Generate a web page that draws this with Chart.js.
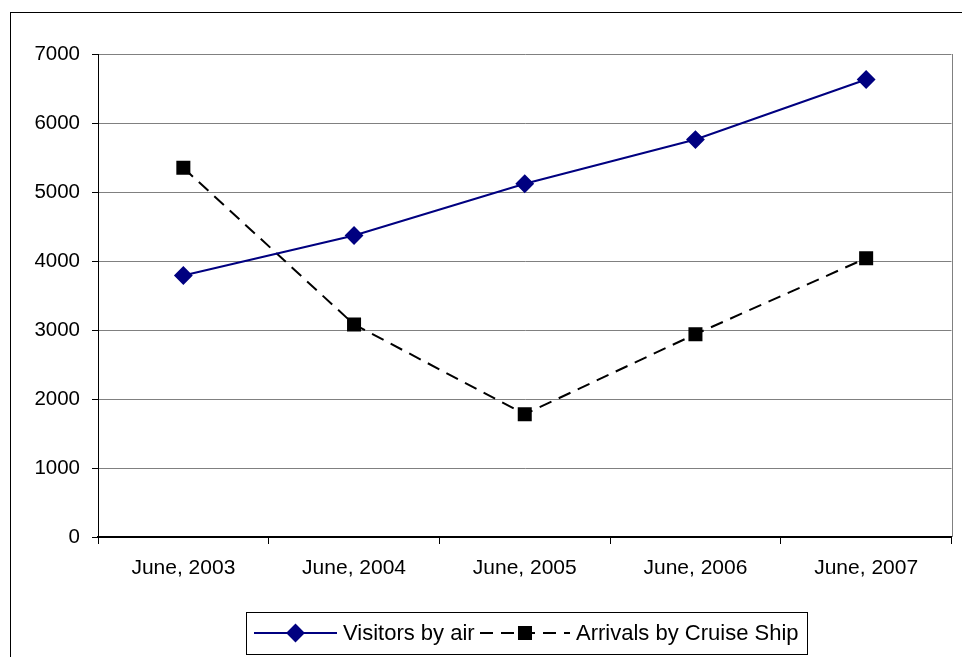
<!DOCTYPE html>
<html>
<head>
<meta charset="utf-8">
<script src="https://cdn.jsdelivr.net/npm/chart.js@4.4.1/dist/chart.umd.min.js"></script>
<style>
  html, body { margin: 0; padding: 0; background: #fff; }
  #wrap { position: relative; width: 962px; height: 657px; overflow: hidden; }
  #frame { position: absolute; left: 10px; top: 12px; width: 1000px; height: 700px;
           border-left: 1px solid #000; border-top: 1px solid #000; }
  canvas { position: absolute; left: 0; top: 0; }
</style>
</head>
<body>
<div id="wrap">
  <div id="frame"></div>
  <canvas id="chart" width="962" height="657"></canvas>
</div>
<script>
// values
const categories = ['June, 2003', 'June, 2004', 'June, 2005', 'June, 2006', 'June, 2007'];
const visitorsByAir = [3790, 4370, 5120, 5760, 6630];
const cruiseArrivals = [5350, 3080, 1780, 2940, 4040];
const yTicks = [0, 1000, 2000, 3000, 4000, 5000, 6000, 7000];

const FONT = 'Liberation Sans, Arial, sans-serif';

// draws the boxed legend (line + marker + text) like the old office chart
const boxLegend = {
  id: 'boxLegend',
  afterDraw(chart) {
    const ctx = chart.ctx;
    const ds = chart.data.datasets;
    const cy = 633;
    ctx.save();
    ctx.strokeStyle = '#000';
    ctx.lineWidth = 1;
    ctx.strokeRect(246.5, 612.5, 561, 42);

    const items = [
      { x0: 254, x1: 337, text: 343 },
      { x0: 480, x1: 570, text: 576 }
    ];
    items.forEach((it, i) => {
      const d = ds[i];
      ctx.strokeStyle = d.borderColor;
      ctx.lineWidth = d.borderWidth;
      ctx.setLineDash(d.borderDash || []);
      ctx.beginPath();
      ctx.moveTo(it.x0, cy);
      ctx.lineTo(it.x1, cy);
      ctx.stroke();
      ctx.setLineDash([]);
      ctx.fillStyle = d.pointBackgroundColor;
      ctx.strokeStyle = d.pointBorderColor;
      Chart.helpers.drawPoint(ctx, {
        pointStyle: d.pointStyle, radius: d.pointRadius, rotation: d.pointRotation || 0, borderWidth: 1
      }, (it.x0 + it.x1) / 2, cy);
      ctx.fillStyle = '#000';
      ctx.font = '22px ' + FONT;
      ctx.textBaseline = 'middle';
      ctx.fillText(d.label, it.text, cy + 1);
    });

    // right edge of the plot area
    const a = chart.chartArea;
    ctx.strokeStyle = '#808080';
    ctx.lineWidth = 1;
    ctx.beginPath();
    ctx.moveTo(Math.round(a.right) + 0.5, a.top);
    ctx.lineTo(Math.round(a.right) + 0.5, a.bottom);
    ctx.stroke();
    ctx.restore();
  }
};

new Chart(document.getElementById('chart'), {
  type: 'line',
  data: {
    labels: categories,
    datasets: [
      {
        label: 'Visitors by air',
        data: visitorsByAir,
        borderColor: '#000080',
        borderWidth: 2,
        pointStyle: 'rectRot',
        pointRadius: 8,
        pointBackgroundColor: '#000080',
        pointBorderColor: '#000080',
        tension: 0
      },
      {
        label: 'Arrivals by Cruise Ship',
        data: cruiseArrivals,
        borderColor: '#000',
        borderWidth: 2,
        borderDash: [13, 8],
        pointStyle: 'rect',
        pointRadius: 8.5,
        pointBackgroundColor: '#000',
        pointBorderColor: '#000',
        tension: 0
      }
    ]
  },
  options: {
    responsive: false,
    animation: false,
    layout: { padding: { left: 0, top: 54, right: 8, bottom: 0 } },
    plugins: { legend: { display: false }, tooltip: { enabled: false } },
    scales: {
      x: {
        offset: true,
        grid: { offset: true, drawOnChartArea: false, drawTicks: true, tickLength: 7, tickColor: '#000' },
        border: { color: '#000', width: 2 },
        ticks: { color: '#000', font: { family: FONT, size: 21 }, padding: 12, maxRotation: 0 },
        afterFit(scale) {
          scale.height = 120;
          scale.paddingLeft = 0;
          scale.paddingRight = 0;
        }
      },
      y: {
        min: 0,
        max: 7000,
        afterBuildTicks(scale) { scale.ticks = yTicks.map(v => ({ value: v })); },
        grid: { color: '#808080', tickColor: '#000', tickLength: 6, lineWidth: 1 },
        border: { color: '#000', width: 1 },
        ticks: {
          color: '#000', font: { family: FONT, size: 20.5 }, padding: 12,
          callback: v => String(v)
        },
        afterFit(scale) { scale.width = 98; }
      }
    }
  },
  plugins: [boxLegend]
});
</script>
</body>
</html>
